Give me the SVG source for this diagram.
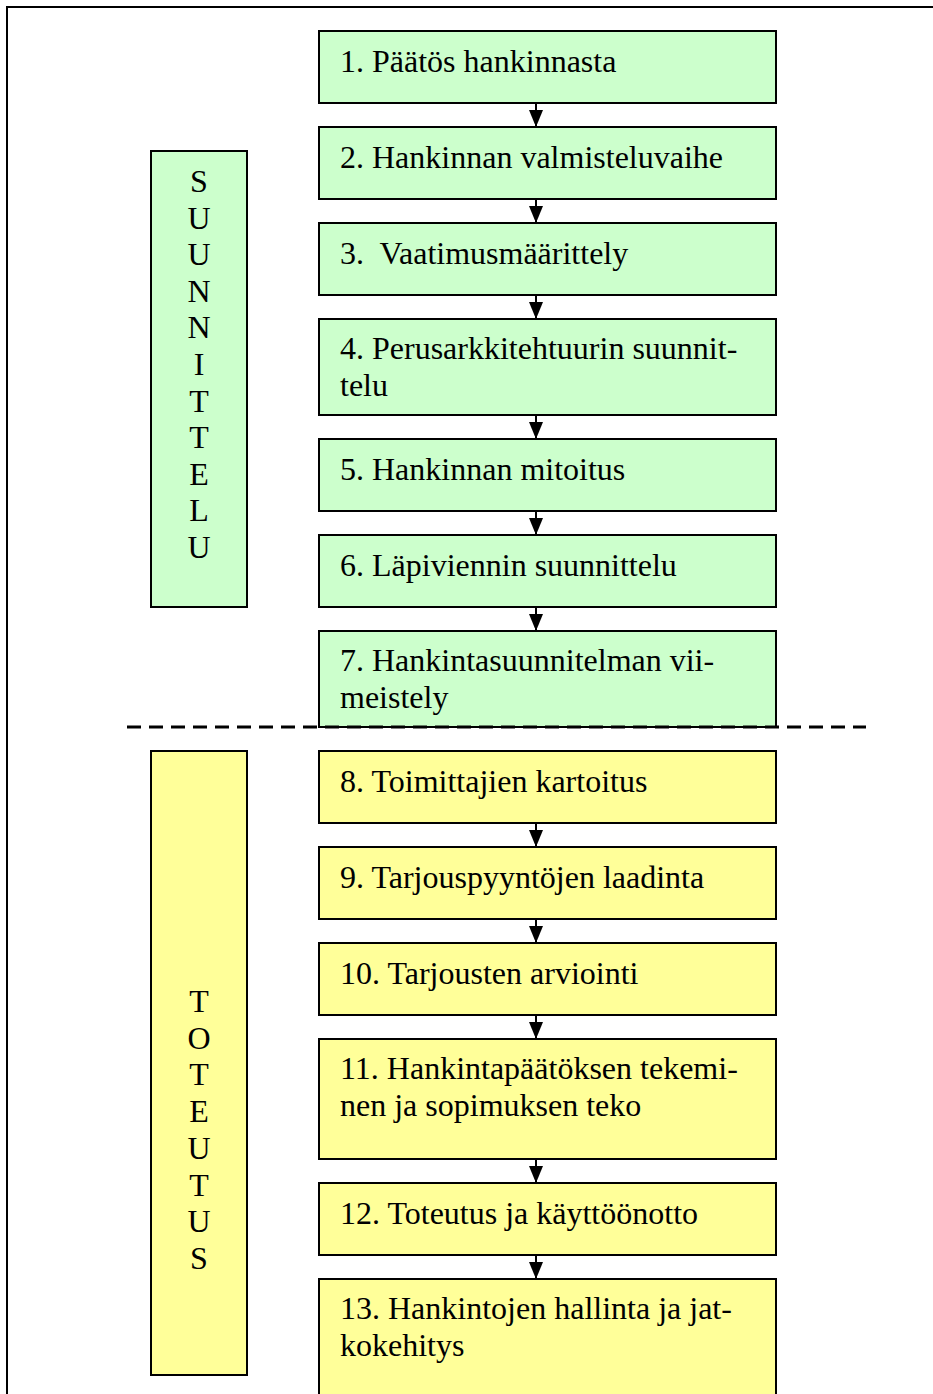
<svg xmlns="http://www.w3.org/2000/svg" width="933" height="1394" viewBox="0 0 933 1394">
<style>
.g{fill:#CCFFCC;stroke:#000;stroke-width:2}
.y{fill:#FFFF99;stroke:#000;stroke-width:2}
.t{font-family:"Liberation Serif","Times New Roman",serif;font-size:32px;fill:#000}
.v{font-family:"Liberation Serif","Times New Roman",serif;font-size:32px;fill:#000;text-anchor:middle}
.c{stroke:#000;stroke-width:2;fill:none}
</style>
<defs>
<marker id="ah" markerWidth="14" markerHeight="18" refX="17" refY="7" orient="auto" markerUnits="userSpaceOnUse">
<path d="M0,0 L17,7 L0,14 Z" fill="#000"/>
</marker>
</defs>
<rect width="933" height="1394" fill="#fff"/>
<path d="M7,1400 L7,7 L940,7" fill="none" stroke="#000" stroke-width="2"/>

<g id="phase-suunnittelu">
<rect class="g" x="151" y="151" width="96" height="456"/>
<text class="v"><tspan x="199" y="192">S</tspan><tspan x="199" y="228.6">U</tspan><tspan x="199" y="265.2">U</tspan><tspan x="199" y="301.8">N</tspan><tspan x="199" y="338.4">N</tspan><tspan x="199" y="375">I</tspan><tspan x="199" y="411.6">T</tspan><tspan x="199" y="448.2">T</tspan><tspan x="199" y="484.8">E</tspan><tspan x="199" y="521.4">L</tspan><tspan x="199" y="558">U</tspan></text>
</g>
<g id="phase-toteutus">
<rect class="y" x="151" y="751" width="96" height="624"/>
<text class="v"><tspan x="199" y="1012">T</tspan><tspan x="199" y="1048.7">O</tspan><tspan x="199" y="1085.4">T</tspan><tspan x="199" y="1122.1">E</tspan><tspan x="199" y="1158.8">U</tspan><tspan x="199" y="1195.5">T</tspan><tspan x="199" y="1232.2">U</tspan><tspan x="199" y="1269">S</tspan></text>
</g>

<g id="n1"><rect class="g" x="319" y="31" width="457" height="72"/><text class="t" x="340" y="72">1. Päätös hankinnasta</text></g>
<g id="n2"><rect class="g" x="319" y="127" width="457" height="72"/><text class="t" x="340" y="168">2. Hankinnan valmisteluvaihe</text></g>
<g id="n3"><rect class="g" x="319" y="223" width="457" height="72"/><text class="t" x="340" y="264" xml:space="preserve">3.  Vaatimusmäärittely</text></g>
<g id="n4"><rect class="g" x="319" y="319" width="457" height="96"/><text class="t"><tspan x="340" y="359">4. Perusarkkitehtuurin suunnit-</tspan><tspan x="340" y="396">telu</tspan></text></g>
<g id="n5"><rect class="g" x="319" y="439" width="457" height="72"/><text class="t" x="340" y="480">5. Hankinnan mitoitus</text></g>
<g id="n6"><rect class="g" x="319" y="535" width="457" height="72"/><text class="t" x="340" y="576">6. Läpiviennin suunnittelu</text></g>
<g id="n7"><rect class="g" x="319" y="631" width="457" height="96"/><text class="t"><tspan x="340" y="671">7. Hankintasuunnitelman vii-</tspan><tspan x="340" y="708">meistely</tspan></text></g>
<g id="n8"><rect class="y" x="319" y="751" width="457" height="72"/><text class="t" x="340" y="792">8. Toimittajien kartoitus</text></g>
<g id="n9"><rect class="y" x="319" y="847" width="457" height="72"/><text class="t" x="340" y="888">9. Tarjouspyyntöjen laadinta</text></g>
<g id="n10"><rect class="y" x="319" y="943" width="457" height="72"/><text class="t" x="340" y="984">10. Tarjousten arviointi</text></g>
<g id="n11"><rect class="y" x="319" y="1039" width="457" height="120"/><text class="t"><tspan x="340" y="1079">11. Hankintapäätöksen tekemi-</tspan><tspan x="340" y="1116">nen ja sopimuksen teko</tspan></text></g>
<g id="n12"><rect class="y" x="319" y="1183" width="457" height="72"/><text class="t" x="340" y="1224">12. Toteutus ja käyttöönotto</text></g>
<g id="n13"><rect class="y" x="319" y="1279" width="457" height="130"/><text class="t"><tspan x="340" y="1319">13. Hankintojen hallinta ja jat-</tspan><tspan x="340" y="1356">kokehitys</tspan></text></g>

<g id="divider"><line x1="127" y1="727" x2="866" y2="727" stroke="#000" stroke-width="3" stroke-dasharray="14 8"/></g>

<g id="connectors">
<line class="c" x1="536" y1="103" x2="536" y2="127" marker-end="url(#ah)"/>
<line class="c" x1="536" y1="199" x2="536" y2="223" marker-end="url(#ah)"/>
<line class="c" x1="536" y1="295" x2="536" y2="319" marker-end="url(#ah)"/>
<line class="c" x1="536" y1="415" x2="536" y2="439" marker-end="url(#ah)"/>
<line class="c" x1="536" y1="511" x2="536" y2="535" marker-end="url(#ah)"/>
<line class="c" x1="536" y1="607" x2="536" y2="631" marker-end="url(#ah)"/>
<line class="c" x1="536" y1="823" x2="536" y2="847" marker-end="url(#ah)"/>
<line class="c" x1="536" y1="919" x2="536" y2="943" marker-end="url(#ah)"/>
<line class="c" x1="536" y1="1015" x2="536" y2="1039" marker-end="url(#ah)"/>
<line class="c" x1="536" y1="1159" x2="536" y2="1183" marker-end="url(#ah)"/>
<line class="c" x1="536" y1="1255" x2="536" y2="1279" marker-end="url(#ah)"/>
</g>
</svg>
